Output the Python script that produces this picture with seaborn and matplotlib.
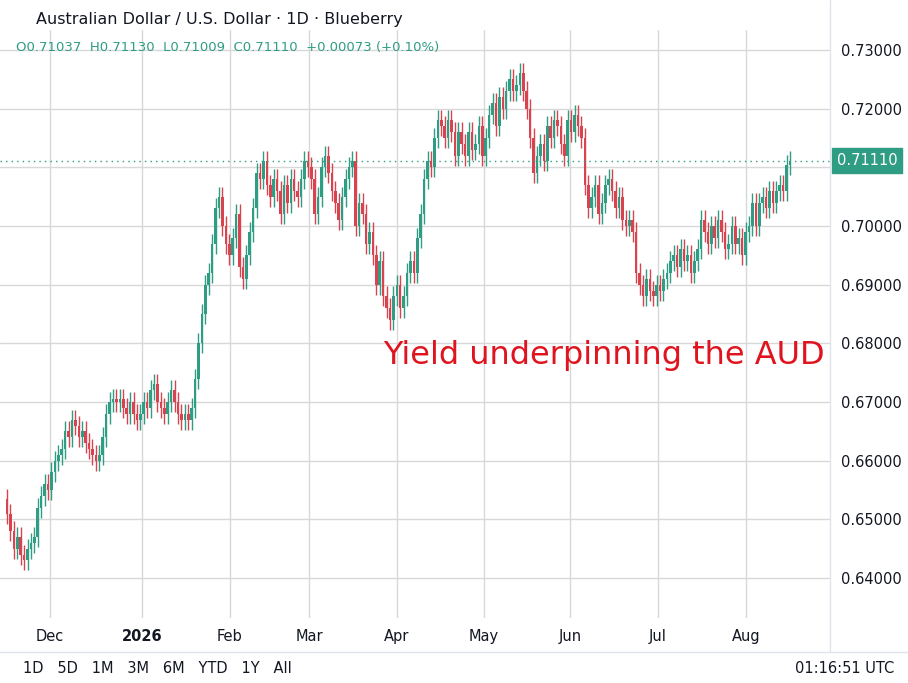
import numpy as np
import pandas as pd
import matplotlib
matplotlib.use("Agg")
import matplotlib.pyplot as plt
import seaborn as sns

closes = [0.651,0.648,0.645,0.647,0.644,0.643,0.645,0.646,0.647,0.652,
          0.654,0.656,0.655,0.658,0.660,0.661,0.662,0.665,0.664,0.667,0.666,0.664,0.665,0.663,0.662,0.661,0.660,0.661,
          0.664,0.668,0.670,0.6705,0.670,0.6705,0.669,0.668,
          0.670,0.668,0.667,0.668,0.670,0.669,0.672,0.673,0.670,0.669,0.668,0.670,0.672,0.670,0.668,0.667,0.668,0.667,0.669,
          0.674,0.680,0.685,0.690,0.692,0.697,
          0.703,0.705,0.700,0.697,0.695,0.698,0.702,0.693,0.691,0.695,0.699,0.703,0.709,0.708,0.711,0.707,
          0.705,0.708,0.706,0.702,0.707,0.704,0.708,0.706,0.705,0.708,0.711,0.710,0.708,0.702,0.705,0.710,0.712,0.709,0.706,0.704,0.701,
          0.705,0.708,0.710,0.711,0.700,0.704,0.702,0.697,0.699,0.695,0.690,0.694,0.688,0.686,0.684,0.688,
          0.690,0.686,0.688,0.692,0.694,0.692,0.698,0.702,0.708,0.711,0.710,0.715,0.718,0.717,
          0.715,0.718,0.716,0.712,0.716,0.714,0.712,0.716,0.713,0.714,0.717,0.712,0.715,0.719,0.721,0.717,0.722,
          0.720,0.723,0.725,0.723,0.724,0.726,0.723,0.720,
          0.715,0.709,0.712,0.714,0.711,0.717,0.715,0.718,0.717,0.714,0.712,0.718,0.716,0.719,0.717,0.715,
          0.707,0.703,0.705,0.707,0.702,0.704,0.707,0.708,0.706,0.703,0.705,0.701,0.700,0.701,0.699,
          0.692,0.690,0.688,0.691,0.689,0.688,0.690,0.689,0.691,
          0.692,0.694,0.695,0.693,0.696,0.694,0.695,0.692,0.694,0.696,0.701,0.699,0.697,0.700,0.698,0.701,0.699,0.696,0.697,0.700,0.697,0.698,0.695,0.699,
          0.700,0.704,0.700,0.704,0.705,0.703,0.706,0.704,0.706,0.707,0.706,0.7104,0.7111]
first_open = 0.6535
wick = 0.0017
month_labels = ["Dec", "2026", "Feb", "Mar", "Apr", "May", "Jun", "Jul", "Aug"]
month_pix = [50, 142, 230, 309, 397, 484, 570, 658, 746]
price_ticks = [0.64, 0.65, 0.66, 0.67, 0.68, 0.69, 0.70, 0.71, 0.72, 0.73]
last_price = 0.71110

n = len(closes)
opens = [first_open] + closes[:-1]
df = pd.DataFrame({"open": opens, "close": closes})
df["x"] = np.arange(n)
df["high"] = df[["open", "close"]].max(axis=1) + wick
df["low"] = df[["open", "close"]].min(axis=1) - wick

sns.set_theme(style="white")
plt.rcParams['font.family'] = ['DejaVu Sans']
GREEN, RED = "#2f9c84", "#d9434f"

fig = plt.figure(figsize=(9.08, 6.83), dpi=100)
ax = fig.add_axes([0.0, 1 - 618/683, 830/908, (618-30)/683])
for _, r in df.iterrows():
    c = GREEN if r.close >= r.open else RED
    ax.vlines(r.x, r.low, r.high, color=c, lw=1)
    ax.bar(r.x, max(abs(r.close - r.open), 0.0002), bottom=min(r.open, r.close),
           width=0.75, color=c, edgecolor=c, lw=0)

# pixel -> candle index mapping (first candle at px 7, last at px 790)
scale = (n - 1) / (790 - 7)
to_x = lambda p: (p - 7) * scale
ax.set_xlim(to_x(0), to_x(830))
ax.set_xticks([to_x(p) for p in month_pix])
ax.set_xticklabels(month_labels, fontsize=10.5, color="#131722")
for t in ax.get_xticklabels():
    if t.get_text() == "2026":
        t.set_fontweight("bold")
ax.set_ylim(0.6332, 0.7334)
ax.yaxis.tick_right()
ax.set_yticks(price_ticks)
ax.set_yticklabels(["" if abs(v - 0.71) < 1e-9 else f"{v:.5f}" for v in price_ticks],
                   fontsize=10.5, color="#131722")
ax.grid(True, color="#d8d8d8", lw=1)
ax.tick_params(length=0, pad=8)
for s in ax.spines.values():
    s.set_visible(False)
ax.axhline(last_price, color=GREEN, ls=(0, (1, 3)), lw=1)
ax.text(1.008, last_price, f"{last_price:.5f}", transform=ax.get_yaxis_transform(),
        ha="left", va="center", color="white", fontsize=10.5,
        bbox=dict(boxstyle="square,pad=0.35", fc=GREEN, ec=GREEN))
ax.text(0.461, 0.447, "Yield underpinning the AUD", color="#e0141e", fontsize=23,
        transform=ax.transAxes, ha="left", va="center")

fig.text(0.04, 0.972, "Australian Dollar / U.S. Dollar · 1D · Blueberry", fontsize=11.5, color="#131722", va="center")
fig.text(0.018, 0.930, "O0.71037  H0.71130  L0.71009  C0.71110  +0.00073 (+0.10%)", fontsize=9.5, color="#2f9c84", va="center")
fig.text(0.025, 0.01, "1D   5D   1M   3M   6M   YTD   1Y   All", fontsize=10.5, color="#131722", va="bottom")
fig.text(0.985, 0.01, "01:16:51 UTC", fontsize=10.5, color="#131722", ha="right", va="bottom")
fig.add_artist(plt.Line2D([0, 1], [0.045, 0.045], color="#e0e3eb", lw=1))
fig.add_artist(plt.Line2D([830/908, 830/908], [0.045, 1], color="#e0e3eb", lw=1))
fig.savefig("out.png", dpi=100)
